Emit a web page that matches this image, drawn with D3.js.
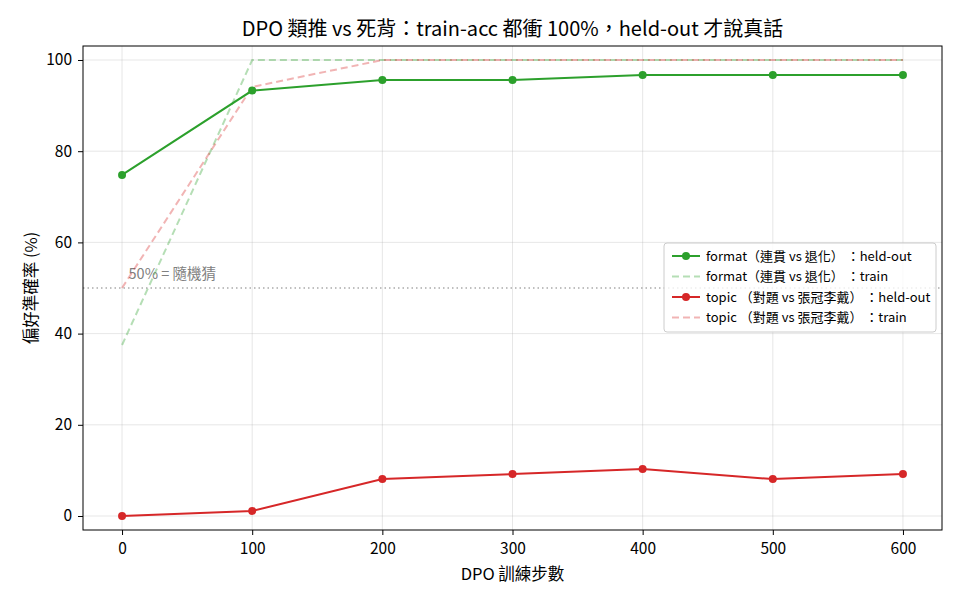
<!DOCTYPE html>
<html lang="zh-Hant">
<head>
<meta charset="utf-8">
<title>DPO 類推 vs 死背</title>
<script src="https://d3js.org/d3.v7.min.js"></script>
<style>
    body { margin: 0; background: #fff; }
    svg { font-family: "Noto Sans CJK TC", "Noto Sans", sans-serif; }
    .axis { font-family: "Noto Sans CJK TC", "Noto Sans", sans-serif; }
    .axis path, .axis line { stroke: #000; }
    .axis text { font-size: 15.5px; fill: #000; }
    .grid line { stroke: #b0b0b0; stroke-opacity: 0.3; }
</style>
</head>
<body>
<div id="chart"></div>
<script>
    // data
    var steps = [0, 100, 200, 300, 400, 500, 600];
    var formatHeld = [74.8, 93.3, 95.6, 95.6, 96.7, 96.7, 96.7];
    var formatTrain = [37.5, 100, 100, 100, 100, 100, 100];
    var topicHeld = [0, 1.1, 8.1, 9.2, 10.3, 8.1, 9.2];
    var topicTrain = [50, 94.1, 100, 100, 100, 100, 100];
    var yTicks = [0, 20, 40, 60, 80, 100];
    var xTicks = [0, 100, 200, 300, 400, 500, 600];

    var series = [
        { name: "format（連貫 vs 退化） ：held-out", values: formatHeld, color: "#2ca02c", dash: null, opacity: 1, marker: true },
        { name: "format（連貫 vs 退化） ：train", values: formatTrain, color: "#2ca02c", dash: "7,4", opacity: 0.35, marker: false },
        { name: "topic （對題 vs 張冠李戴） ：held-out", values: topicHeld, color: "#d62728", dash: null, opacity: 1, marker: true },
        { name: "topic （對題 vs 張冠李戴） ：train", values: topicTrain, color: "#d62728", dash: "7,4", opacity: 0.35, marker: false }
    ];

    var width = 960, height = 600;
    var padLeft = 83, padRight = 942, padTop = 46, padBottom = 530;

    var svg = d3.select("#chart").append("svg")
        .attr("width", width)
        .attr("height", height);

    var xScale = d3.scaleLinear().domain([-30, 630]).range([padLeft, padRight]);
    var yScale = d3.scaleLinear().domain([-3.07, 103.07]).range([padBottom, padTop]);

    // grid
    svg.append("g").attr("class", "grid")
        .selectAll("line").data(xTicks).enter().append("line")
        .attr("x1", function(d) { return xScale(d); })
        .attr("x2", function(d) { return xScale(d); })
        .attr("y1", padTop).attr("y2", padBottom);
    svg.append("g").attr("class", "grid")
        .selectAll("line").data(yTicks).enter().append("line")
        .attr("y1", function(d) { return yScale(d); })
        .attr("y2", function(d) { return yScale(d); })
        .attr("x1", padLeft).attr("x2", padRight);

    // 50% chance line
    svg.append("line")
        .attr("x1", padLeft).attr("x2", padRight)
        .attr("y1", yScale(50)).attr("y2", yScale(50))
        .attr("stroke", "#808080")
        .attr("stroke-width", 1.2)
        .attr("stroke-dasharray", "1.5,3");
    svg.append("text")
        .text("50% = 隨機猜")
        .attr("x", xScale(5))
        .attr("y", yScale(50) - 9)
        .attr("font-size", "14.5px")
        .attr("fill", "#808080");

    var line = d3.line()
        .x(function(d, i) { return xScale(steps[i]); })
        .y(function(d) { return yScale(d); });

    // train lines drawn under held-out
    var order = [1, 3, 0, 2];
    order.forEach(function(k) {
        var s = series[k];
        svg.append("path")
            .datum(s.values)
            .attr("d", line)
            .attr("fill", "none")
            .attr("stroke", s.color)
            .attr("stroke-width", 2)
            .attr("stroke-opacity", s.opacity)
            .attr("stroke-dasharray", s.dash);
        if (s.marker) {
            svg.append("g").selectAll("circle")
                .data(s.values).enter().append("circle")
                .attr("cx", function(d, i) { return xScale(steps[i]); })
                .attr("cy", function(d) { return yScale(d); })
                .attr("r", 4)
                .attr("fill", s.color);
        }
    });

    // axes
    svg.append("g").attr("class", "axis")
        .attr("transform", "translate(0," + padBottom + ")")
        .call(d3.axisBottom(xScale).tickValues(xTicks).tickSize(5).tickPadding(8))
        .select(".domain").remove();
    svg.append("g").attr("class", "axis")
        .attr("transform", "translate(" + padLeft + ",0)")
        .call(d3.axisLeft(yScale).tickValues(yTicks).tickSize(5).tickPadding(6))
        .select(".domain").remove();

    svg.append("rect")
        .attr("x", padLeft).attr("y", padTop)
        .attr("width", padRight - padLeft).attr("height", padBottom - padTop)
        .attr("fill", "none").attr("stroke", "#000").attr("stroke-width", 1);

    // labels
    svg.append("text")
        .text("DPO 類推 vs 死背：train-acc 都衝 100%，held-out 才說真話")
        .attr("x", (padLeft + padRight) / 2).attr("y", 36)
        .attr("text-anchor", "middle")
        .attr("font-size", "20px");
    svg.append("text")
        .text("DPO 訓練步數")
        .attr("x", (padLeft + padRight) / 2).attr("y", 580)
        .attr("text-anchor", "middle")
        .attr("font-size", "16.5px");
    svg.append("text")
        .text("偏好準確率 (%)")
        .attr("transform", "translate(37," + ((padTop + padBottom) / 2) + ") rotate(-90)")
        .attr("text-anchor", "middle")
        .attr("font-size", "16.5px");

    // legend
    var lg = svg.append("g").attr("transform", "translate(664,243)");
    lg.append("rect")
        .attr("width", 272).attr("height", 89).attr("rx", 3)
        .attr("fill", "#fff").attr("fill-opacity", 0.8)
        .attr("stroke", "#ccc");
    series.forEach(function(s, i) {
        var yy = 13 + i * 20.5;
        lg.append("line")
            .attr("x1", 8).attr("x2", 36)
            .attr("y1", yy).attr("y2", yy)
            .attr("stroke", s.color).attr("stroke-width", 2)
            .attr("stroke-opacity", s.opacity)
            .attr("stroke-dasharray", s.dash);
        if (s.marker) {
            lg.append("circle").attr("cx", 22).attr("cy", yy).attr("r", 4).attr("fill", s.color);
        }
        lg.append("text")
            .text(s.name)
            .attr("x", 42).attr("y", yy + 4.5)
            .attr("font-size", "13px");
    });
</script>
</body>
</html>
